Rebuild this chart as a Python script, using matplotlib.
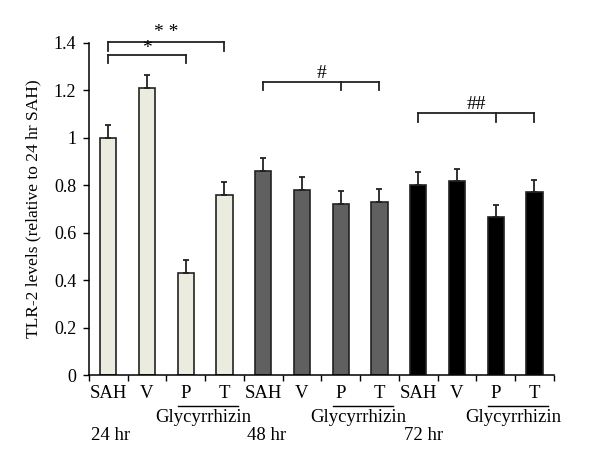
import matplotlib
matplotlib.use("Agg")
import matplotlib.pyplot as plt
import numpy as np

plt.rcParams['font.family'] = ['Liberation Serif', 'DejaVu Serif']

categories = ["SAH", "V", "P", "T"] * 3
groups = ["24 hr", "48 hr", "72 hr"]
values = [1.00, 1.21, 0.43, 0.76, 0.86, 0.78, 0.72, 0.73, 0.80, 0.817, 0.665, 0.77]
errors = [0.053, 0.054, 0.054, 0.054, 0.055, 0.055, 0.055, 0.055, 0.055, 0.053, 0.053, 0.053]
group_colors = ["#ECEBDF", "#606060", "#000000"]
yticks = [0, 0.2, 0.4, 0.6, 0.8, 1.0, 1.2, 1.4]
ytick_labels = ["0", "0.2", "0.4", "0.6", "0.8", "1", "1.2", "1.4"]

fig = plt.figure(figsize=(6, 4.67), dpi=100)
ax = fig.add_axes([0.148, 0.197, 0.775, 0.711])

x = np.arange(len(values))
colors = [group_colors[i // 4] for i in range(len(values))]
ax.bar(x, values, width=0.42, color=colors, edgecolor="#222222", linewidth=1.2, zorder=2)
ax.errorbar(x, values, yerr=[np.zeros(len(values)), errors], fmt='none',
            ecolor="#222222", elinewidth=1.3, capsize=2.5, capthick=1.3, zorder=3)

ax.set_xlim(-0.5, 11.5)
ax.set_ylim(0, 1.4)
ax.set_yticks(yticks)
ax.set_yticklabels(ytick_labels, fontsize=13)
ax.set_xticks(np.arange(-0.5, 12, 1))
ax.set_xticklabels([])
ax.tick_params(axis='x', length=4, width=1, direction='out')
ax.tick_params(axis='y', length=4, width=1, direction='out', pad=5)
for s in ['top', 'right']:
    ax.spines[s].set_visible(False)
for s in ['left', 'bottom']:
    ax.spines[s].set_linewidth(1.1)
ax.set_ylabel("TLR-2 levels (relative to 24 hr SAH)", fontsize=12.5, labelpad=9)

# x labels
for i, c in enumerate(categories):
    ax.text(i, -0.076, c, ha='center', va='center', fontsize=13.5, clip_on=False)
for g in range(3):
    base = g * 4
    ax.plot([base + 1.8, base + 3.35], [-0.129, -0.129], color='black', lw=1, clip_on=False)
    ax.text(base + 2.45, -0.181, "Glycyrrhizin", ha='center', va='center', fontsize=13.5, clip_on=False)
    ax.text(base + 0.05 + 0.05 * g, -0.253, groups[g], ha='center', va='center', fontsize=13.5, clip_on=False)

def bracket(xs, y, drop, label, ly):
    ax.plot([xs[0], xs[-1]], [y, y], color='#222222', lw=1.3, clip_on=False)
    for xi in xs:
        ax.plot([xi, xi], [y, y - drop], color='#222222', lw=1.3, clip_on=False)
    ax.text((xs[0] + xs[-1]) / 2, ly, label, ha='center', va='center', fontsize=14, clip_on=False)

bracket([0, 3], 1.405, 0.037, "* *", 1.445)
bracket([0, 2], 1.349, 0.033, "*", 1.375)
bracket([4, 6, 7], 1.236, 0.033, "#", 1.272)
bracket([8, 10, 11], 1.104, 0.036, "##", 1.142)

fig.savefig("out.png", dpi=100)
